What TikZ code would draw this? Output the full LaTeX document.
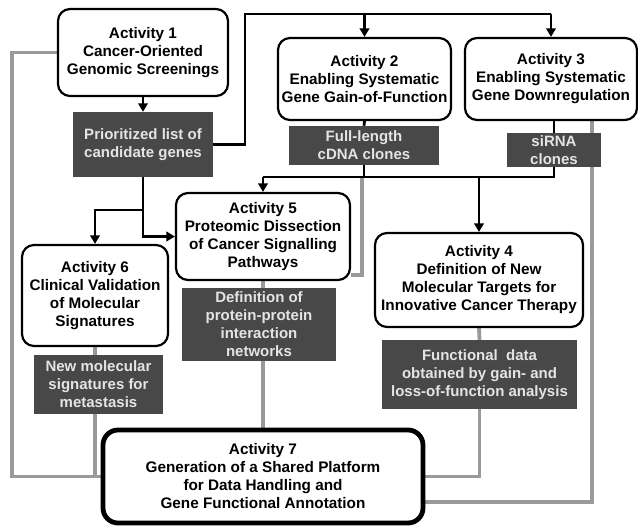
\documentclass[tikz,border=0pt]{standalone}
\usepackage{fontspec}
\setmainfont{Liberation Sans}
\usetikzlibrary{arrows.meta,backgrounds}
\definecolor{dkbox}{HTML}{484848}
\definecolor{boxtxt}{HTML}{E4E4E4}
\definecolor{lngray}{HTML}{9A9A9A}
\begin{document}
\begin{tikzpicture}[x=1pt,y=-1pt,
  actbox/.style={draw=black, line width=2.2pt, rounded corners=12pt, fill=white, align=center, inner sep=0pt,
    font=\fontsize{15.3}{18}\selectfont\bfseries},
  resbox/.style={fill=dkbox, text=boxtxt, align=center, inner sep=0pt,
    font=\fontsize{15}{18}\selectfont\bfseries},
  blkline/.style={line width=2.8pt, draw=black},
  gryline/.style={line width=3.8pt, draw=lngray},
  arrtip/.style={-{Triangle[length=8.5pt,width=9.5pt]}}
]
\useasboundingbox (0,0) rectangle (638,526);

% nodes
\node[actbox, minimum width=170pt, minimum height=87pt] (a1) at (143,52.5) {Activity 1\\Cancer-Oriented\\Genomic Screenings};
\node[resbox, minimum width=140pt, minimum height=65pt] (p1) at (143,144.5) {Prioritized list of\\candidate genes};
\node[actbox, minimum width=173pt, minimum height=82pt] (a2) at (364.5,79) {Activity 2\\Enabling Systematic\\Gene Gain-of-Function};
\node[actbox, minimum width=172pt, minimum height=82pt] (a3) at (551,79) {Activity 3\\Enabling Systematic\\Gene Downregulation};
\node[resbox, minimum width=150pt, minimum height=39pt] (cdna) at (364,145.5) {Full-length\\cDNA clones};
\node[resbox, minimum width=94pt, minimum height=34pt] (sirna) at (554,150) {siRNA\\clones};
\node[actbox, minimum width=174pt, minimum height=87pt] (a5) at (263,236.5) {Activity 5\\Proteomic Dissection\\of Cancer Signalling\\Pathways};
\node[actbox, minimum width=208pt, minimum height=94pt] (a4) at (479,280) {Activity 4\\Definition of New\\Molecular Targets for\\Innovative Cancer Therapy};
\node[actbox, minimum width=146pt, minimum height=101pt] (a6) at (95,295.5) {Activity 6\\Clinical Validation\\of Molecular\\Signatures};
\node[resbox, minimum width=154pt, minimum height=73pt] (net) at (259,324.5) {Definition of\\protein-protein\\interaction\\networks};
\node[resbox, minimum width=129pt, minimum height=59pt] (nm) at (98.5,384.5) {New molecular\\signatures for\\metastasis};
\node[resbox, minimum width=195pt, minimum height=69pt] (fd) at (479.5,374.5) {Functional\ \ data\\obtained by gain- and\\loss-of-function analysis};
\node[actbox, line width=4.8pt, rounded corners=15pt, minimum width=320pt, minimum height=93pt] (a7) at (263,476.5) {Activity 7\\Generation of a Shared Platform\\for Data Handling and\\Gene Functional Annotation};

\coordinate (t1) at (245,14);
\coordinate (hj) at (364,177);
\coordinate (bj) at (143,210);
\coordinate (lc) at (12,0);
\coordinate (g5) at (362,275);
\coordinate (g3) at (592,502);

\begin{scope}[on background layer]
% gray connectors
\draw[gryline] (a1.west) -| (lc |- a7.west) -- (a7.west);
\draw[gryline] (a6.south) -- (a6.south |- nm.north);
\draw[gryline] (a6.south |- nm.south) -- (a6.south |- a7.west);
\draw[gryline] (a5.south) -- (a5.south |- net.north);
\draw[gryline] (a5.south |- net.south) -- (a5.south |- a7.north);
\draw[gryline] (g5 |- hj) -- (g5) -- (a5.east |- g5);
\draw[gryline] (a4.south) -- (fd.north);
\draw[gryline] (fd.south) |- (a7.east);
\draw[gryline] (g3 |- a3.south) -- (g3) -- (a7.east |- g3);
% black connectors
\draw[blkline, arrtip] (a1.south) -- (p1.north);
\draw[blkline] (p1.east) -| (t1) -- (a3.north |- t1);
\draw[blkline, arrtip] (a3.north |- t1) -- (a3.north);
\draw[blkline, arrtip] (a2.north |- t1) -- (a2.north);
\draw[blkline] (a2.south) -- (cdna.north);
\draw[blkline] (sirna.north |- a3.south) -- (sirna.north);
\draw[blkline] (cdna.south) -- (hj);
\draw[blkline] (a5.north |- hj) -- (sirna.south |- hj) -- (sirna.south);
\draw[blkline, arrtip] (a5.north |- hj) -- (a5.north);
\draw[blkline, arrtip] (a4.north |- hj) -- (a4.north);
\draw[blkline, arrtip] (p1.south) |- (a5.west);
\draw[blkline, arrtip] (bj) -| (a6.north);
\end{scope}
\end{tikzpicture}
\end{document}
